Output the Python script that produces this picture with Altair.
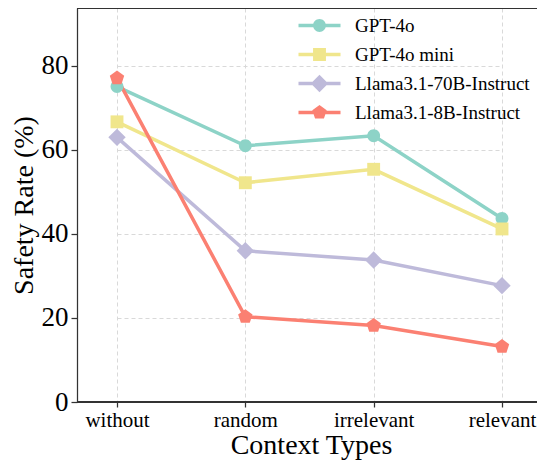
import altair as alt
import pandas as pd

categories = ["without", "random", "irrelevant", "relevant"]
models = ["GPT-4o", "GPT-4o mini", "Llama3.1-70B-Instruct", "Llama3.1-8B-Instruct"]
gpt4o = [75.1, 61.0, 63.4, 43.7]
gpt4o_mini = [66.7, 52.2, 55.4, 41.2]
llama70b = [63.0, 36.0, 33.8, 27.7]
llama8b = [77.1, 20.3, 18.2, 13.2]
colors = ["#8dd3c7", "#f0e68c", "#bebada", "#fb8072"]

rows = []
for m, vals in zip(models, [gpt4o, gpt4o_mini, llama70b, llama8b]):
    for i, (c, v) in enumerate(zip(categories, vals)):
        rows.append({"context": c, "idx": i, "model": m, "rate": v})
df = pd.DataFrame(rows)

# custom symbol paths (Vega scales unit paths by sqrt(size)/2)
circle = "M 0.92 0 A 0.92 0.92 0 1 1 -0.92 0 A 0.92 0.92 0 1 1 0.92 0 Z"
square = "M -0.92 -0.92 L 0.92 -0.92 L 0.92 0.92 L -0.92 0.92 Z"
diamond = "M 0 -1.24 L 1.24 0 L 0 1.24 L -1.24 0 Z"
pentagon = "M 0 -1.08 L 1.027 -0.334 L 0.635 0.874 L -0.635 0.874 L -1.027 -0.334 Z"
bars = ("M -3 -0.25 L -0.8 -0.25 L -0.8 0.25 L -3 0.25 Z "
        "M 0.8 -0.25 L 3 -0.25 L 3 0.25 L 0.8 0.25 Z ")
marker_paths = [circle, square, diamond, pentagon]
legend_paths = [bars + p for p in marker_paths]

FONT = "Liberation Serif"
W, H = 460, 394

x = alt.X(
    "context:N", sort=categories,
    scale=alt.Scale(type="point", range=[40, 425], padding=0),
    axis=alt.Axis(title="Context Types", labelAngle=0, labelFontSize=21,
                  labelPadding=2, tickSize=5, titleFontSize=28,
                  titleFontWeight="normal", titleBaseline="alphabetic",
                  titleY=51, titleX=234, domain=False),
)
y = alt.Y(
    "rate:Q",
    scale=alt.Scale(domain=[0, 93.8], nice=False),
    axis=alt.Axis(title="Safety Rate (%)", values=[0, 20, 40, 60, 80],
                  labelFontSize=27, labelPadding=3, tickSize=6,
                  titleFontSize=28, titleFontWeight="normal",
                  titleX=-53, titleBaseline="middle"),
)
cscale = alt.Scale(domain=models, range=colors)

leg = dict(title=None, orient="none", legendX=233, legendY=8,
           labelFont=FONT, labelFontSize=19, labelColor="black", labelLimit=400,
           labelOffset=26, symbolSize=196, symbolOpacity=1, symbolStrokeWidth=0,
           rowPadding=9, padding=0)

legend_layer = alt.Chart(df).mark_point(filled=True, size=196, opacity=0).encode(
    x=x, y=y,
    color=alt.Color("model:N", scale=cscale, sort=models, legend=alt.Legend(**leg)),
    shape=alt.Shape("model:N", sort=models,
                    scale=alt.Scale(domain=models, range=legend_paths),
                    legend=alt.Legend(**leg)),
)

# frame lines: top and bottom spines (right spine falls outside the reference crop)
top_rule = alt.Chart(df).mark_rule(color="#333333", strokeWidth=1.25).encode(
    x=alt.value(0), x2=alt.value(W), y=alt.value(0)
)
bottom_rule = alt.Chart(df).mark_rule(color="#333333", strokeWidth=1.25).encode(
    x=alt.value(0), x2=alt.value(W), y=alt.value(H)
)

lines = alt.Chart(df).mark_line(strokeWidth=3.5).encode(
    x=x, y=y,
    color=alt.Color("model:N", scale=cscale, sort=models, legend=None),
    order=alt.Order("idx:Q"),
)

point_layers = [
    alt.Chart(df).transform_filter(alt.datum.model == m).mark_point(
        filled=True, size=196, opacity=1, strokeWidth=0, shape=p
    ).encode(
        x=x, y=y,
        color=alt.Color("model:N", scale=cscale, sort=models, legend=None),
    )
    for m, p in zip(models, marker_paths)
]

chart = alt.layer(legend_layer, top_rule, bottom_rule, lines, *point_layers).properties(
    width=W, height=H,
    autosize=alt.AutoSizeParams(type="none"),
    padding={"left": 69, "top": 0, "right": 0, "bottom": 58},
).configure_view(
    strokeWidth=0,
).configure_axis(
    labelFont=FONT, titleFont=FONT, labelColor="black", titleColor="black",
    domainColor="#333333", domainWidth=1.25, tickColor="#333333", tickWidth=1.25,
    grid=True, gridColor="#d9d9d9", gridDash=[4, 3], gridWidth=1,
)

chart.save("out.html", embed_options={"renderer": "svg", "actions": False})
